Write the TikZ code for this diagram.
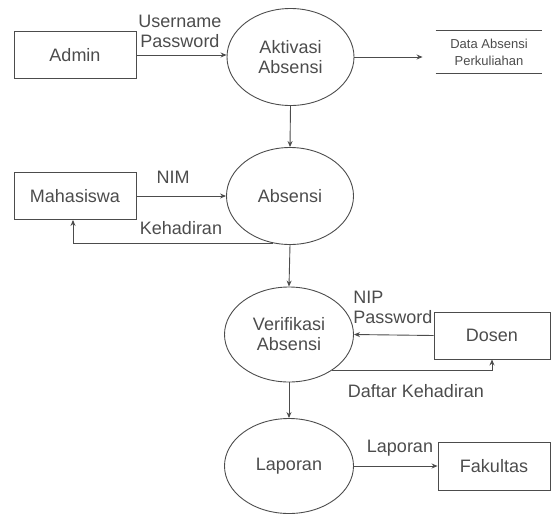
\documentclass[tikz,border=0pt]{standalone}
\usepackage{fontspec}
\setmainfont{Liberation Sans}
\usepackage{tikz}
\usetikzlibrary{arrows.meta,positioning,calc,shapes.geometric}
\definecolor{dfdgray}{gray}{0.3}
\tikzstyle{entity}=[draw=dfdgray,rectangle,minimum width=122pt,minimum height=47pt,inner sep=0pt,text=dfdgray]
\tikzstyle{process}=[draw=dfdgray,ellipse,minimum width=127pt,minimum height=97pt,inner sep=0pt,align=center,text=dfdgray]
\tikzstyle{flowlabel}=[inner sep=0pt,text=dfdgray,align=center]

\begin{document}
\begin{tikzpicture}[x=1pt,y=-1pt,line width=0.9pt,dfdgray,
    >={Stealth[length=6pt,width=5pt]},
    every node/.style={font=\fontsize{18}{20}\selectfont}]
    \useasboundingbox (0,0) rectangle (552,515);
    % entities
    \node [entity] (admin) at (75,55) {Admin};
    \node [entity] (mhs) at (75,196) {Mahasiswa};
    \node [entity,minimum width=116pt] (dosen) at (492,335.5) {Dosen};
    \node [entity,minimum width=112pt,minimum height=48pt] (fakultas) at (494,466) {Fakultas};
    % processes
    \node [process] (aktivasi) at (290.5,57) {Aktivasi\\Absensi};
    \node [process] (absensi) at (290,196) {Absensi};
    \node [process,minimum width=129pt,minimum height=95pt] (verif) at (289,334.5) {Verifikasi\\Absensi};
    \node [process,minimum width=129pt,minimum height=95pt] (laporan) at (289,466) {Laporan};
    % data store
    \node [flowlabel,minimum width=106pt,minimum height=42pt,
      font=\fontsize{13}{17}\selectfont] (store) at (489,52) {Data Absensi\\Perkuliahan};
    \draw (store.north west) -- (store.north east);
    \draw (store.south west) -- (store.south east);
    % flows
    \draw [->] (admin.east) -- (aktivasi.west |- admin.east);
    \node [flowlabel] (userpass) at (180,31) {Username\\Password};
    \draw [->,shorten >=13pt] (aktivasi.east) -- (aktivasi.east -| store.west);
    \draw [->] (aktivasi.south) -- (absensi.north);
    \draw [->] (mhs.east) -- (absensi.west);
    \node [flowlabel] (nim) at (173,177) {NIM};
    \draw [->] (absensi.250) -| ([xshift=-2pt]mhs.south);
    \node [flowlabel] (hadir) at (181,228) {Kehadiran};
    \draw [->] (absensi.south) -- (verif.north);
    \draw [->] (dosen.west) -- (verif.east);
    \node [flowlabel,anchor=west,align=left] (nip) at (353,307) {NIP\\Password};
    \draw [->] (verif.-40) -| (dosen.south);
    \node [flowlabel] (daftar) at (416,391) {Daftar Kehadiran};
    \draw [->] (verif.south) -- (laporan.north);
    \draw [->] (laporan.east) -- (fakultas.west);
    \node [flowlabel] (lap) at (400,448) {Laporan};
\end{tikzpicture}
\end{document}
